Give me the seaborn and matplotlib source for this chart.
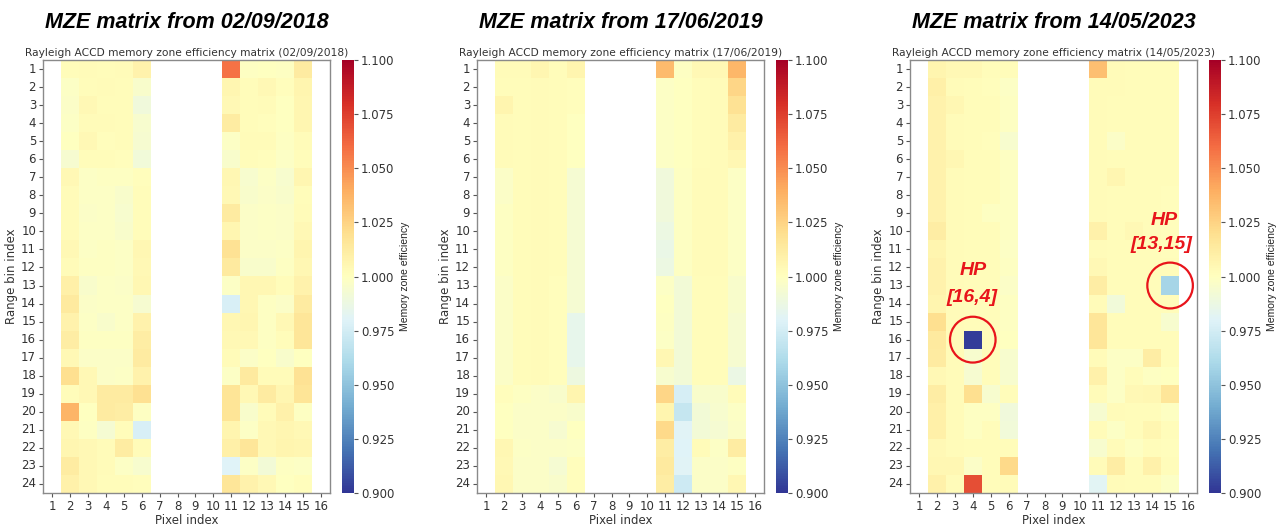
import numpy as np
import pandas as pd
import matplotlib
matplotlib.use("Agg")
import matplotlib.pyplot as plt
from matplotlib.patches import Circle
import seaborn as sns

# Axes labels
pixels = list(range(1, 17))
range_bins = list(range(1, 25))
active_pixels = [2, 3, 4, 5, 6, 11, 12, 13, 14, 15]

dates = ["02/09/2018", "17/06/2019", "14/05/2023"]

# Memory zone efficiency per range bin (rows) for the active pixels
mze_2018 = [
    [1.002, 1.003, 1.002, 1.003, 1.008, 1.058, 0.999, 1.000, 0.999, 1.013],
    [0.998, 1.002, 1.003, 1.002, 0.996, 1.006, 1.002, 1.004, 1.001, 1.007],
    [0.997, 1.004, 1.002, 1.002, 0.990, 1.004, 1.002, 1.003, 1.000, 1.006],
    [0.998, 1.003, 1.003, 1.002, 0.995, 1.012, 1.002, 1.001, 1.000, 1.006],
    [1.000, 1.004, 1.001, 1.002, 0.994, 0.998, 1.003, 1.003, 0.999, 1.003],
    [0.994, 1.002, 1.002, 1.001, 0.991, 0.996, 1.002, 1.001, 0.998, 1.002],
    [1.004, 0.998, 0.999, 0.999, 1.001, 1.005, 0.995, 0.998, 0.995, 1.006],
    [1.003, 0.998, 0.998, 0.996, 1.002, 1.004, 0.996, 0.997, 0.996, 1.002],
    [1.003, 0.997, 0.998, 0.995, 1.002, 1.013, 0.997, 0.998, 0.997, 1.003],
    [1.003, 0.998, 0.998, 0.996, 1.002, 1.006, 0.997, 0.998, 0.997, 1.004],
    [1.004, 0.998, 0.999, 0.998, 1.005, 1.018, 0.997, 0.997, 0.998, 1.007],
    [1.003, 0.999, 0.999, 0.998, 1.004, 1.014, 0.996, 0.996, 0.999, 1.005],
    [1.010, 0.996, 0.998, 0.997, 1.005, 0.998, 1.005, 1.005, 1.002, 1.008],
    [1.014, 0.997, 0.998, 0.998, 0.994, 0.977, 1.005, 0.999, 0.997, 1.013],
    [1.008, 0.998, 0.996, 0.998, 1.008, 1.005, 1.006, 0.999, 1.004, 1.016],
    [1.011, 0.999, 0.999, 0.999, 1.011, 1.004, 1.004, 0.999, 1.002, 1.016],
    [1.004, 0.997, 0.997, 0.997, 1.013, 1.003, 0.997, 1.000, 0.996, 1.000],
    [1.020, 1.004, 0.997, 0.998, 1.008, 0.998, 1.014, 1.003, 1.003, 1.018],
    [1.002, 1.004, 1.013, 1.013, 1.019, 1.017, 1.004, 1.013, 1.006, 1.017],
    [1.037, 1.000, 1.013, 1.011, 0.999, 1.017, 0.996, 1.003, 1.009, 0.999],
    [1.004, 0.999, 0.993, 1.002, 0.977, 1.007, 0.998, 1.004, 1.006, 1.004],
    [1.006, 1.004, 1.003, 1.012, 1.003, 1.010, 1.016, 1.004, 1.007, 1.006],
    [1.012, 1.004, 1.003, 0.998, 0.995, 0.980, 0.998, 0.992, 0.999, 0.998],
    [1.009, 1.004, 1.002, 1.002, 1.001, 1.016, 1.008, 1.004, 1.000, 1.001],
]

mze_2019 = [
    [1.003, 1.003, 1.006, 1.002, 1.007, 1.035, 0.999, 1.004, 1.004, 1.036],
    [1.002, 1.002, 1.003, 1.002, 1.001, 0.998, 1.000, 1.002, 1.003, 1.024],
    [1.007, 1.002, 1.003, 1.002, 1.001, 0.998, 1.000, 1.002, 1.003, 1.018],
    [1.003, 1.002, 1.003, 1.002, 1.000, 0.998, 1.000, 1.002, 1.003, 1.013],
    [1.003, 1.002, 1.003, 1.002, 1.000, 0.998, 1.000, 1.002, 1.003, 1.009],
    [1.003, 1.002, 1.003, 1.002, 1.000, 0.998, 1.000, 1.002, 1.003, 1.005],
    [0.997, 1.002, 1.003, 1.002, 0.993, 0.990, 0.999, 1.003, 1.003, 0.998],
    [0.997, 1.002, 1.003, 1.002, 0.993, 0.990, 0.999, 1.003, 1.003, 0.998],
    [0.999, 1.002, 1.003, 1.002, 0.993, 0.990, 0.999, 1.003, 1.003, 0.998],
    [0.999, 1.002, 1.003, 1.002, 0.993, 0.988, 0.999, 1.003, 1.003, 0.998],
    [0.999, 1.002, 1.003, 1.002, 0.993, 0.986, 0.999, 1.003, 1.003, 0.998],
    [0.999, 1.002, 1.003, 1.002, 0.993, 0.988, 0.999, 1.003, 1.003, 0.998],
    [0.997, 1.002, 1.003, 1.001, 0.993, 0.998, 0.992, 1.002, 1.002, 0.996],
    [0.997, 1.002, 1.003, 1.001, 0.993, 1.000, 0.992, 1.002, 1.002, 0.996],
    [0.997, 1.002, 1.003, 1.001, 0.985, 0.999, 0.992, 1.002, 1.002, 0.994],
    [0.997, 1.002, 1.003, 1.001, 0.985, 0.998, 0.992, 1.002, 1.002, 0.994],
    [0.997, 1.002, 1.003, 1.001, 0.985, 1.005, 0.992, 1.002, 1.002, 0.994],
    [0.997, 1.002, 1.003, 1.001, 0.989, 0.995, 0.992, 1.002, 1.002, 0.987],
    [1.001, 0.999, 0.997, 0.996, 1.007, 1.024, 0.976, 0.996, 0.996, 1.003],
    [1.000, 0.997, 0.997, 0.997, 0.996, 1.007, 0.970, 0.992, 0.995, 0.998],
    [1.000, 0.997, 0.997, 0.994, 1.000, 1.022, 0.981, 0.992, 0.993, 0.997],
    [1.005, 0.998, 0.997, 0.997, 0.998, 1.011, 0.980, 1.003, 0.998, 1.012],
    [1.004, 0.997, 0.997, 0.993, 1.001, 1.014, 0.981, 0.997, 0.997, 0.999],
    [1.005, 0.997, 0.997, 0.996, 1.001, 1.011, 0.973, 0.997, 0.997, 1.005],
]

mze_2023 = [
    [1.007, 1.004, 1.004, 1.002, 1.002, 1.033, 1.003, 1.002, 1.002, 1.002],
    [1.010, 1.003, 1.002, 1.001, 0.998, 1.003, 1.003, 1.002, 1.002, 1.002],
    [1.008, 1.005, 1.002, 1.002, 0.999, 1.003, 1.002, 1.002, 1.002, 1.002],
    [1.008, 1.003, 1.002, 1.002, 0.999, 1.003, 1.002, 1.002, 1.002, 1.002],
    [1.008, 1.003, 1.002, 1.001, 0.995, 1.003, 0.997, 1.002, 1.002, 1.002],
    [1.008, 1.005, 1.002, 1.002, 0.999, 1.003, 1.002, 1.002, 1.002, 1.002],
    [1.008, 1.003, 1.002, 1.002, 0.999, 1.003, 1.006, 1.002, 1.002, 1.002],
    [1.008, 1.003, 1.002, 1.002, 0.999, 1.003, 1.002, 1.002, 1.002, 1.001],
    [1.008, 1.003, 1.002, 0.999, 0.999, 1.003, 1.002, 1.002, 1.002, 1.001],
    [1.011, 1.003, 1.002, 1.002, 0.999, 1.009, 1.002, 1.004, 1.002, 1.001],
    [1.007, 1.003, 1.002, 1.002, 0.998, 1.003, 1.002, 1.002, 1.002, 1.001],
    [1.008, 1.003, 1.002, 1.002, 0.999, 1.004, 1.002, 1.002, 1.002, 1.002],
    [1.008, 1.003, 1.002, 1.002, 0.997, 1.011, 1.002, 1.002, 1.002, 0.958],
    [1.007, 1.003, 1.002, 1.002, 0.999, 1.003, 0.991, 1.002, 1.002, 1.002],
    [1.020, 1.003, 1.002, 1.002, 0.999, 1.016, 1.002, 1.002, 1.002, 0.995],
    [1.014, 1.003, 0.903, 1.002, 1.000, 1.016, 1.002, 1.002, 1.002, 1.002],
    [1.013, 1.003, 0.995, 1.002, 0.995, 1.003, 0.998, 0.998, 1.011, 1.002],
    [1.004, 1.003, 0.994, 1.002, 0.995, 1.009, 0.998, 1.002, 0.999, 1.000],
    [1.011, 1.003, 1.020, 0.995, 1.002, 1.003, 0.998, 1.004, 1.005, 1.016],
    [1.010, 1.003, 0.999, 0.999, 0.990, 0.994, 1.003, 1.002, 1.002, 0.999],
    [1.010, 1.003, 0.999, 1.002, 0.991, 1.003, 0.998, 1.002, 1.006, 1.002],
    [1.004, 1.003, 1.002, 1.002, 1.002, 0.995, 1.003, 0.999, 1.002, 1.001],
    [1.005, 1.005, 0.997, 1.002, 1.022, 1.003, 1.011, 1.002, 1.009, 1.002],
    [1.009, 1.003, 1.070, 1.002, 1.003, 0.982, 1.003, 1.002, 1.002, 0.998],
]

# Hot pixels flagged on the last map: (range bin, pixel) with label placement
hot_pixels = [(16, 4), (13, 15)]
hp_label_x = [3.5, 14.2]
hp_label_y = [11.65, 8.9]
coord_label_x = [3.45, 14.0]
coord_label_y = [13.15, 10.2]

cbar_ticks = [0.900, 0.925, 0.950, 0.975, 1.000, 1.025, 1.050, 1.075, 1.100]

sns.set_theme(style="white")
plt.rcParams["font.family"] = ["DejaVu Sans"]
TXT = "#333333"
HP_RED = "#e8141b"

W, H = 1277, 525
fig = plt.figure(figsize=(W / 100, H / 100), dpi=100)


def frac(x0, y0, w, h):
    return [x0 / W, 1 - (y0 + h) / H, w / W, h / H]


panel_left = [43, 477, 910]
cbar_left = [342, 776, 1209]
top, height, width = 60, 433, 287

for i, (date, vals) in enumerate(zip(dates, [mze_2018, mze_2019, mze_2023])):
    grid = pd.DataFrame(np.nan, index=range_bins, columns=pixels)
    grid.loc[:, active_pixels] = np.array(vals)

    ax = fig.add_axes(frac(panel_left[i], top, width, height))
    cax = fig.add_axes(frac(cbar_left[i], top, 12, height))
    sns.heatmap(
        grid, ax=ax, cbar_ax=cax, cmap="RdYlBu_r", vmin=0.9, vmax=1.1,
        xticklabels=True, yticklabels=True,
        cbar_kws={"ticks": cbar_ticks, "format": "%.3f"},
    )
    for sp in ax.spines.values():
        sp.set_visible(True)
        sp.set_color("#8a8a8a")
        sp.set_linewidth(1.0)
    ax.tick_params(axis="both", which="both", length=3, width=0.8,
                   color="#555555", labelsize=8.5, labelcolor=TXT,
                   bottom=True, left=True, pad=2)
    ax.set_yticklabels(range_bins, rotation=0)
    ax.set_xticklabels(pixels, rotation=0)
    ax.set_xlabel("Pixel index", fontsize=8.5, color=TXT, labelpad=1)
    ax.set_ylabel("Range bin index", fontsize=8.5, color=TXT, labelpad=2)
    ax.set_title(f"Rayleigh ACCD memory zone efficiency matrix ({date})",
                 fontsize=7.7, color=TXT, pad=3)

    cax.tick_params(labelsize=8.5, labelcolor=TXT, length=3, width=0.8,
                    color="#555555", right=True, pad=2)
    cax.set_ylabel("Memory zone efficiency", fontsize=7.5,
                   family="Liberation Sans", color="#222222", labelpad=4)

    fig.text((panel_left[i] + width / 2) / W, 1 - 22 / H,
             f"MZE matrix from {date}", ha="center", va="center",
             fontsize=15.5, fontweight="bold", fontstyle="italic",
             family="Liberation Sans", color="black")

    if i == 2:
        for k, (row, col) in enumerate(hot_pixels):
            cx, cy = col - 0.5, row - 0.5
            ax.add_patch(Circle((cx, cy), 1.27, fill=False, edgecolor=HP_RED,
                                linewidth=1.6, clip_on=False))
            ax.text(hp_label_x[k], hp_label_y[k], "HP", ha="center",
                    va="center", color=HP_RED, fontsize=14, fontweight="bold",
                    fontstyle="italic", family="Liberation Sans")
            ax.text(coord_label_x[k], coord_label_y[k], f"[{row},{col}]",
                    ha="center", va="center", color=HP_RED, fontsize=14,
                    fontweight="bold", fontstyle="italic",
                    family="Liberation Sans")

fig.savefig("out.png", dpi=100, facecolor="white")
